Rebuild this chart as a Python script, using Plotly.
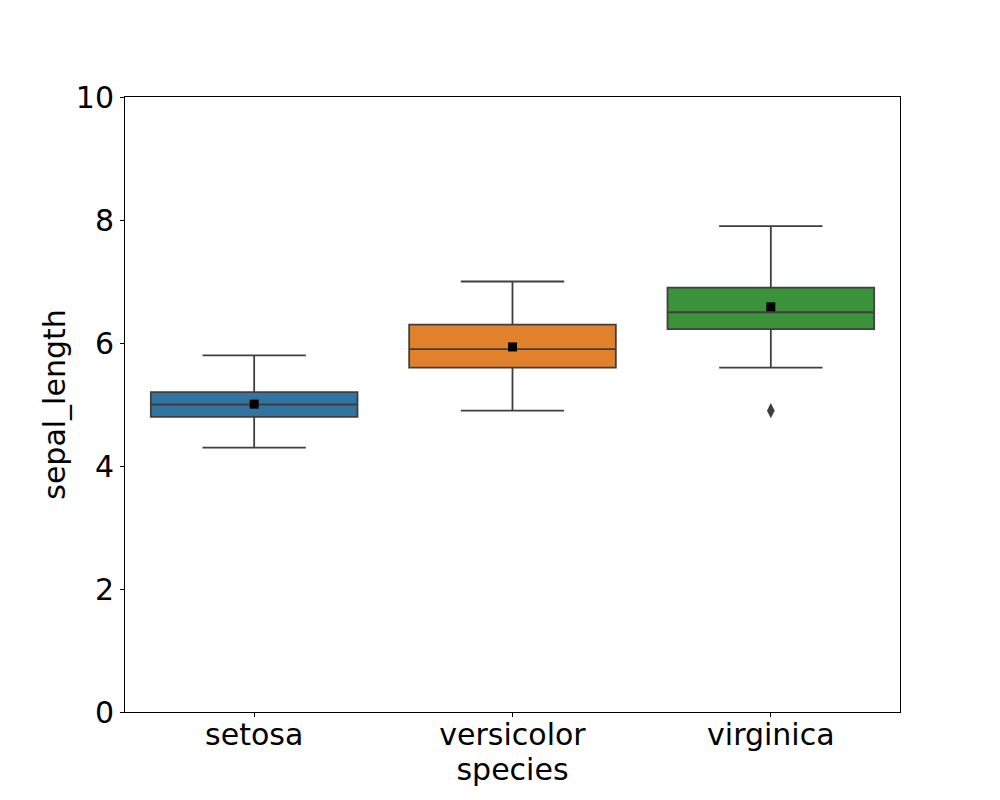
import plotly.graph_objects as go

species = ["setosa", "versicolor", "virginica"]
q1 = [4.8, 5.6, 6.225]
median = [5.0, 5.9, 6.5]
q3 = [5.2, 6.3, 6.9]
lower = [4.3, 4.9, 5.6]
upper = [5.8, 7.0, 7.9]
means = [5.006, 5.936, 6.588]
outlier_species = ["virginica"]
outlier_values = [4.9]
colors = ["#3274a1", "#e1812c", "#3a923a"]
line_color = "#3f3f3f"

pos = {s: i for i, s in enumerate(species)}

fig = go.Figure()
for i, s in enumerate(species):
    fig.add_trace(go.Box(
        x=[i], q1=[q1[i]], median=[median[i]], q3=[q3[i]],
        lowerfence=[lower[i]], upperfence=[upper[i]],
        width=0.8, whiskerwidth=0.5,
        fillcolor=colors[i], line=dict(color=line_color, width=1.8),
        boxpoints=False, showlegend=False, hoverinfo="skip",
    ))

fig.add_trace(go.Scatter(
    x=[pos[s] for s in outlier_species], y=outlier_values, mode="markers",
    marker=dict(symbol="diamond-tall", size=11, color=line_color),
    showlegend=False,
))
fig.add_trace(go.Scatter(
    x=list(range(len(species))), y=means, mode="markers",
    marker=dict(symbol="square", size=9, color="black"),
    showlegend=False,
))

fig.update_layout(
    width=1000, height=800,
    margin=dict(l=117, r=108, t=89, b=96),
    plot_bgcolor="white", paper_bgcolor="white",
    font=dict(family="DejaVu Sans", size=30, color="black"),
    xaxis=dict(
        range=[-0.5, 2.5], tickvals=list(range(len(species))), ticktext=species,
        showgrid=False, zeroline=False, showline=True, mirror=True,
        linecolor="black", linewidth=1, ticks="outside", ticklen=4,
        tickcolor="black", ticklabelstandoff=-8,
        title=dict(text="species", standoff=0, font=dict(size=30)),
    ),
    yaxis=dict(
        range=[0, 10], tickvals=[0, 2, 4, 6, 8, 10],
        showgrid=False, zeroline=False, showline=True, mirror=True,
        linecolor="black", linewidth=1, ticks="outside", ticklen=4,
        tickcolor="black",
        title=dict(text="sepal_length", standoff=1, font=dict(size=30)),
    ),
)

fig.write_html("out.html")
